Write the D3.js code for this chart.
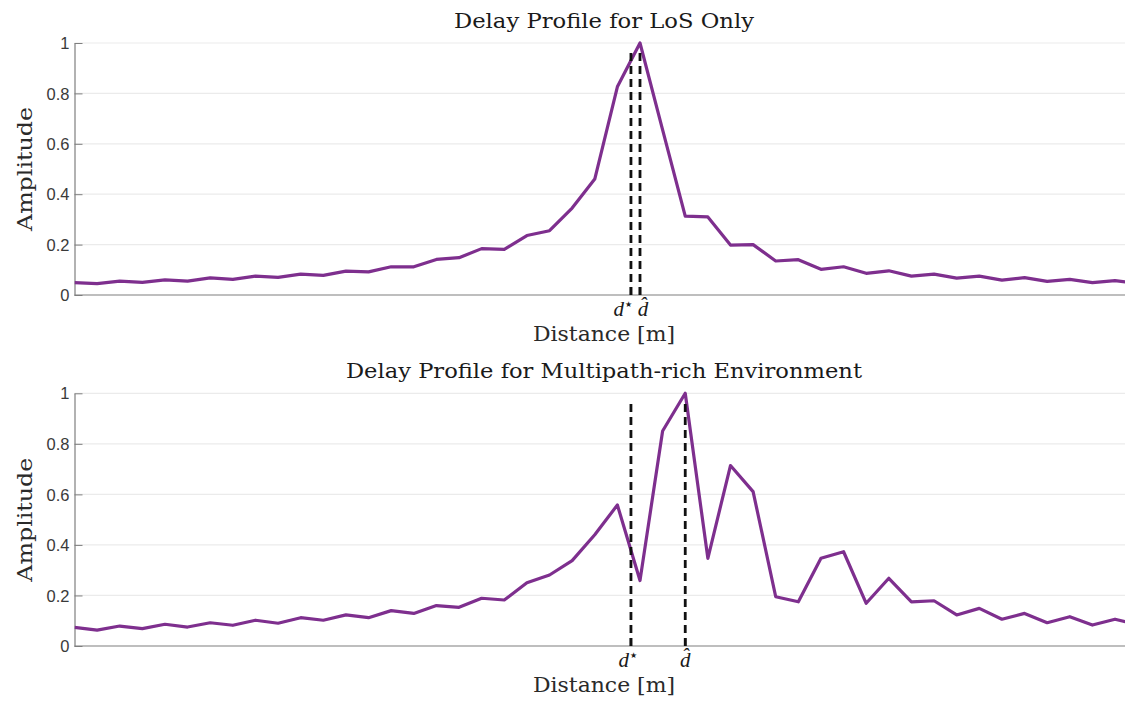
<!DOCTYPE html>
<html>
<head>
<meta charset="utf-8">
<script src="https://cdn.jsdelivr.net/npm/d3@7"></script>
<style>
  html, body { margin: 0; padding: 0; background: #fff; overflow: hidden; }
  svg { display: block; }
  .tick text { font-family: "Liberation Sans", Arial, sans-serif; }
</style>
</head>
<body>
<svg id="chart" width="1125" height="701"></svg>
<script>
// Sample index along the distance axis (uniform delay bins)
const binIndex = d3.range(48);

// Normalised delay-profile amplitude, line-of-sight only
const losAmplitude = [
  0.049, 0.045, 0.055, 0.050, 0.060, 0.055, 0.068, 0.062, 0.075, 0.070,
  0.083, 0.078, 0.095, 0.092, 0.112, 0.112, 0.141, 0.148, 0.184, 0.181,
  0.236, 0.255, 0.345, 0.460, 0.826, 1.000, 0.655, 0.313, 0.310, 0.198,
  0.200, 0.135, 0.140, 0.102, 0.112, 0.086, 0.096, 0.075, 0.083, 0.067,
  0.075, 0.059, 0.069, 0.054, 0.062, 0.049, 0.057, 0.046
];

// Normalised delay-profile amplitude, multipath-rich environment
const multipathAmplitude = [
  0.074, 0.063, 0.079, 0.069, 0.086, 0.075, 0.092, 0.082, 0.102, 0.090,
  0.112, 0.102, 0.123, 0.112, 0.140, 0.129, 0.160, 0.153, 0.189, 0.182,
  0.250, 0.281, 0.338, 0.440, 0.558, 0.259, 0.851, 1.000, 0.347, 0.714,
  0.611, 0.195, 0.175, 0.347, 0.373, 0.169, 0.268, 0.175, 0.179, 0.123,
  0.149, 0.106, 0.129, 0.092, 0.116, 0.083, 0.106, 0.085
];

// True distance d* and estimated distance d-hat (in bin units)
const trueDistance = [24.6, 24.6];
const estimatedDistance = [25, 27];

const panelTitles = ["Delay Profile for LoS Only", "Delay Profile for Multipath-rich Environment"];
const yTickValues = [0, 0.2, 0.4, 0.6, 0.8, 1];
const yTickLabels = ["0", "0.2", "0.4", "0.6", "0.8", "1"];
const xLabel = "Distance [m]";
const yLabel = "Amplitude";

const series = [losAmplitude, multipathAmplitude];

const svg = d3.select("#chart");
const serif = "'DejaVu Serif', 'Liberation Serif', serif";
const mathSerif = "'Liberation Serif', 'DejaVu Serif', serif";
const lineColor = "#7e2f8e";

const left = 74.5;
const binWidth = 22.62;
const panels = [
  { top: 43, bottom: 295, starShift: -8, hatShift: 3 },
  { top: 393.3, bottom: 646, starShift: -3, hatShift: 0 }
];

const x = d3.scaleLinear().domain([0, 47]).range([left, left + 47 * binWidth]);
const xEnd = 1125;

svg.append("defs").append("clipPath").attr("id", "plotClip")
  .append("rect").attr("x", left).attr("y", 0).attr("width", xEnd - left).attr("height", 701);

panels.forEach((p, k) => {
  const y = d3.scaleLinear().domain([0, 1]).range([p.bottom, p.top]);
  const g = svg.append("g");

  // horizontal grid
  g.append("g").selectAll("line").data(yTickValues.filter(v => v > 0)).join("line")
    .attr("x1", left).attr("x2", xEnd)
    .attr("y1", d => y(d)).attr("y2", d => y(d))
    .attr("stroke", "#ebebeb").attr("stroke-width", 1.2);

  // y axis with inward ticks
  const yAxis = d3.axisLeft(y).tickValues(yTickValues)
    .tickFormat((d, i) => yTickLabels[i]).tickSizeInner(-8).tickSizeOuter(0).tickPadding(5);
  const ya = g.append("g").attr("transform", `translate(${left},0)`).call(yAxis);
  ya.select(".domain").attr("stroke", "#7f7f7f").attr("stroke-width", 1.2);
  ya.selectAll(".tick line").attr("stroke", "#7f7f7f");
  ya.selectAll(".tick text").attr("font-size", 16.5).attr("fill", "#3a3a3a").attr("dy", "0.34em");

  // x axis baseline
  g.append("line").attr("x1", left).attr("x2", xEnd)
    .attr("y1", p.bottom).attr("y2", p.bottom)
    .attr("stroke", "#7f7f7f").attr("stroke-width", 1.2);

  // amplitude curve
  const line = d3.line().x((d, i) => x(binIndex[i])).y(d => y(d));
  g.append("path").datum(series[k])
    .attr("clip-path", "url(#plotClip)")
    .attr("d", line)
    .attr("fill", "none").attr("stroke", lineColor)
    .attr("stroke-width", 3.2).attr("stroke-linejoin", "round");

  // reference lines at d* and d-hat
  const marks = [trueDistance[k], estimatedDistance[k]];
  g.append("g").selectAll("line").data(marks).join("line")
    .attr("x1", d => x(d)).attr("x2", d => x(d))
    .attr("y1", y(0)).attr("y2", y(0.975))
    .attr("stroke", "#111").attr("stroke-width", 2.8)
    .attr("stroke-dasharray", "8,5");

  // axis ticks at the two marks
  g.append("g").selectAll("line").data(marks).join("line")
    .attr("x1", d => x(d)).attr("x2", d => x(d))
    .attr("y1", y(0)).attr("y2", y(0) - 8)
    .attr("stroke", "#111").attr("stroke-width", 2.4);

  // tick labels d* and d-hat
  const labY = p.bottom + 21;
  const ds = g.append("text").attr("x", x(trueDistance[k]) + p.starShift).attr("y", labY)
    .attr("text-anchor", "middle").attr("font-family", mathSerif).attr("font-style", "italic")
    .attr("font-size", 21).attr("fill", "#1a1a1a");
  ds.append("tspan").text("d");
  ds.append("tspan").text("\u2605").attr("font-family", "'DejaVu Sans', sans-serif")
    .attr("font-size", 8).attr("dy", -9).attr("dx", 1).attr("font-style", "normal");

  g.append("text").attr("x", x(estimatedDistance[k]) + p.hatShift).attr("y", labY)
    .attr("text-anchor", "middle").attr("font-family", mathSerif).attr("font-style", "italic")
    .attr("font-size", 21).attr("fill", "#1a1a1a").text("d\u0302");

  // x label
  g.append("text").attr("x", 604).attr("y", p.bottom + 46)
    .attr("text-anchor", "middle").attr("font-family", serif)
    .attr("font-size", 21).attr("fill", "#2a2a2a")
    .attr("textLength", 142).attr("lengthAdjust", "spacingAndGlyphs")
    .text(xLabel);

  // y label
  const cy = (p.top + p.bottom) / 2;
  g.append("text").attr("transform", `translate(32,${cy}) rotate(-90)`)
    .attr("text-anchor", "middle").attr("font-family", serif)
    .attr("font-size", 21).attr("fill", "#2a2a2a")
    .attr("textLength", 124).attr("lengthAdjust", "spacingAndGlyphs")
    .text(yLabel);

  // title
  const tw = k === 0 ? 300 : 516;
  g.append("text").attr("x", 604).attr("y", p.top - 15)
    .attr("text-anchor", "middle").attr("font-family", serif)
    .attr("font-size", 20.5).attr("fill", "#1a1a1a")
    .attr("textLength", tw).attr("lengthAdjust", "spacingAndGlyphs")
    .text(panelTitles[k]);
});
</script>
</body>
</html>
